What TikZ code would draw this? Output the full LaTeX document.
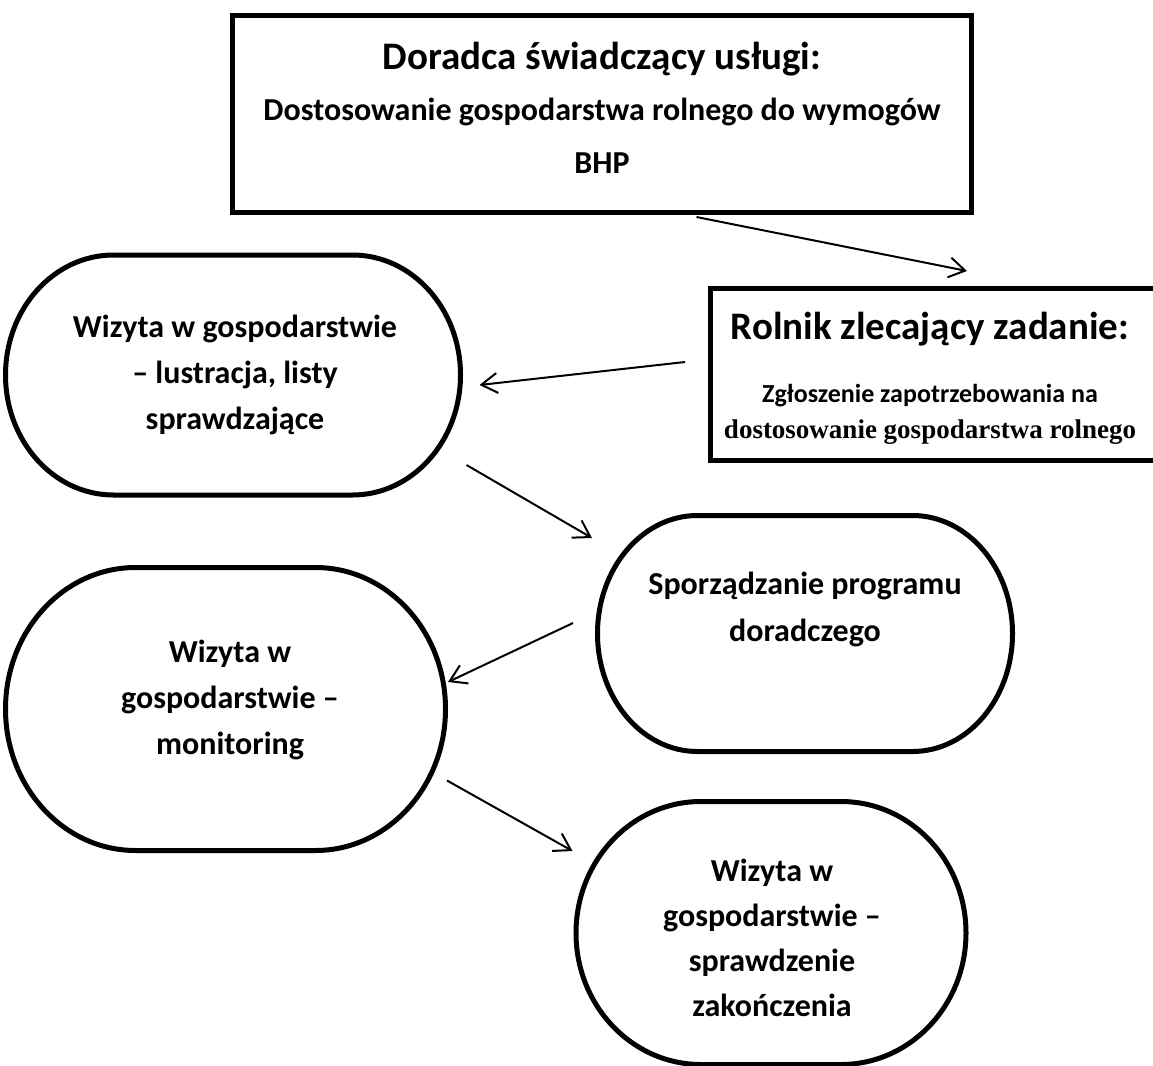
\documentclass[tikz,border=0pt]{standalone}
\usepackage{fontspec}
\setmainfont{Carlito}
\newfontfamily\tnr{Liberation Serif}
\usetikzlibrary{arrows.meta,calc}
\newcommand\drawstadium[3]{%
  \draw[outline] ([xshift=#2pt]#1.north west) -- ([xshift=-#2pt]#1.north east)
    arc[start angle=90,end angle=-90,x radius=#2pt,y radius=#3pt]
    -- ([xshift=#2pt]#1.south west)
    arc[start angle=270,end angle=90,x radius=#2pt,y radius=#3pt] -- cycle;}
\begin{document}
\begin{tikzpicture}[x=1pt,y=1pt,
  outline/.style={line width=5pt, line join=round},
  holder/.style={inner sep=0pt, outer sep=0pt},
  boxed/.style={draw, line width=5pt, inner sep=0pt, outer sep=0pt},
  arr/.style={line width=2pt, -{Straight Barb[length=16pt,width=20pt]}},
  head/.style={font=\fontsize{39}{46}\selectfont\bfseries, anchor=base, inner sep=0pt},
  body/.style={font=\fontsize{32}{38}\selectfont\bfseries, anchor=base, inner sep=0pt},
  small/.style={font=\fontsize{26}{31}\selectfont\bfseries, anchor=base, inner sep=0pt}]
\clip (0,0) rectangle (1153,-1065);
\fill[white] (0,0) rectangle (1153,-1065);

% top box
\node[boxed, minimum width=739pt, minimum height=197pt] (top) at (602,-114) {};
\node[head] (topa) at (602,-70) {Doradca świadczący usługi:};
\node[body] (topb) at (602,-120) {Dostosowanie gospodarstwa rolnego do wymogów};
\node[body] (topc) at (602,-173) {BHP};

% Rolnik box
\node[boxed, minimum width=467pt, minimum height=172pt] (rol) at (944,-374.5) {};
\node[head] (rola) at (930,-339) {Rolnik zlecający zadanie:};
\node[small] (rolb) at (930,-402) {Zgłoszenie zapotrzebowania na};
\node[small, font=\fontsize{27}{32}\selectfont\tnr\bfseries] (rolc) at (930,-438) {dostosowanie gospodarstwa rolnego};

% stadium shapes
\node[holder, minimum width=455pt, minimum height=240pt] (s1) at (233,-375) {};
\drawstadium{s1}{108}{120}
\node[body] (s1a) at (235,-337) {Wizyta w gospodarstwie};
\node[body] (s1b) at (235,-383) {– lustracja, listy};
\node[body] (s1c) at (235,-429) {sprawdzające};

\node[holder, minimum width=415pt, minimum height=236pt] (s2) at (805,-633.5) {};
\drawstadium{s2}{100}{118}
\node[body] (s2a) at (805,-594) {Sporządzanie programu};
\node[body] (s2b) at (805,-641) {doradczego};

\node[holder, minimum width=440pt, minimum height=283pt] (s3) at (225.5,-709) {};
\drawstadium{s3}{130}{141.5}
\node[body] (s3a) at (230,-662) {Wizyta w};
\node[body] (s3b) at (230,-708) {gospodarstwie –};
\node[body] (s3c) at (230,-754) {monitoring};

\node[holder, minimum width=390pt, minimum height=263pt] (s4) at (771,-933) {};
\drawstadium{s4}{125}{131.5}
\node[body] (s4a) at (772,-881) {Wizyta w};
\node[body] (s4b) at (772,-926) {gospodarstwie –};
\node[body] (s4c) at (772,-971) {sprawdzenie};
\node[body] (s4d) at (772,-1016) {zakończenia};

% connectors
\draw[arr] ($(top.south west)+(464,-4.5)$) -- ($(rol.north west)+(256.5,17.5)$);
\draw[arr] ($(rol.west)+(-25.5,12.5)$) -- ($(s1.east)+(19,-10)$);
\draw[arr] ($(s1.south east)+(6,30)$) -- ($(s2.north west)+(-5.5,-22.5)$);
\draw[arr] ($(s2.west)+(-24.5,10.5)$) -- ($(s3.east)+(2.5,27)$);
\draw[arr] ($(s3.south east)+(1.5,70)$) -- ($(s4.north west)+(-3.5,-49.5)$);
\end{tikzpicture}
\end{document}
